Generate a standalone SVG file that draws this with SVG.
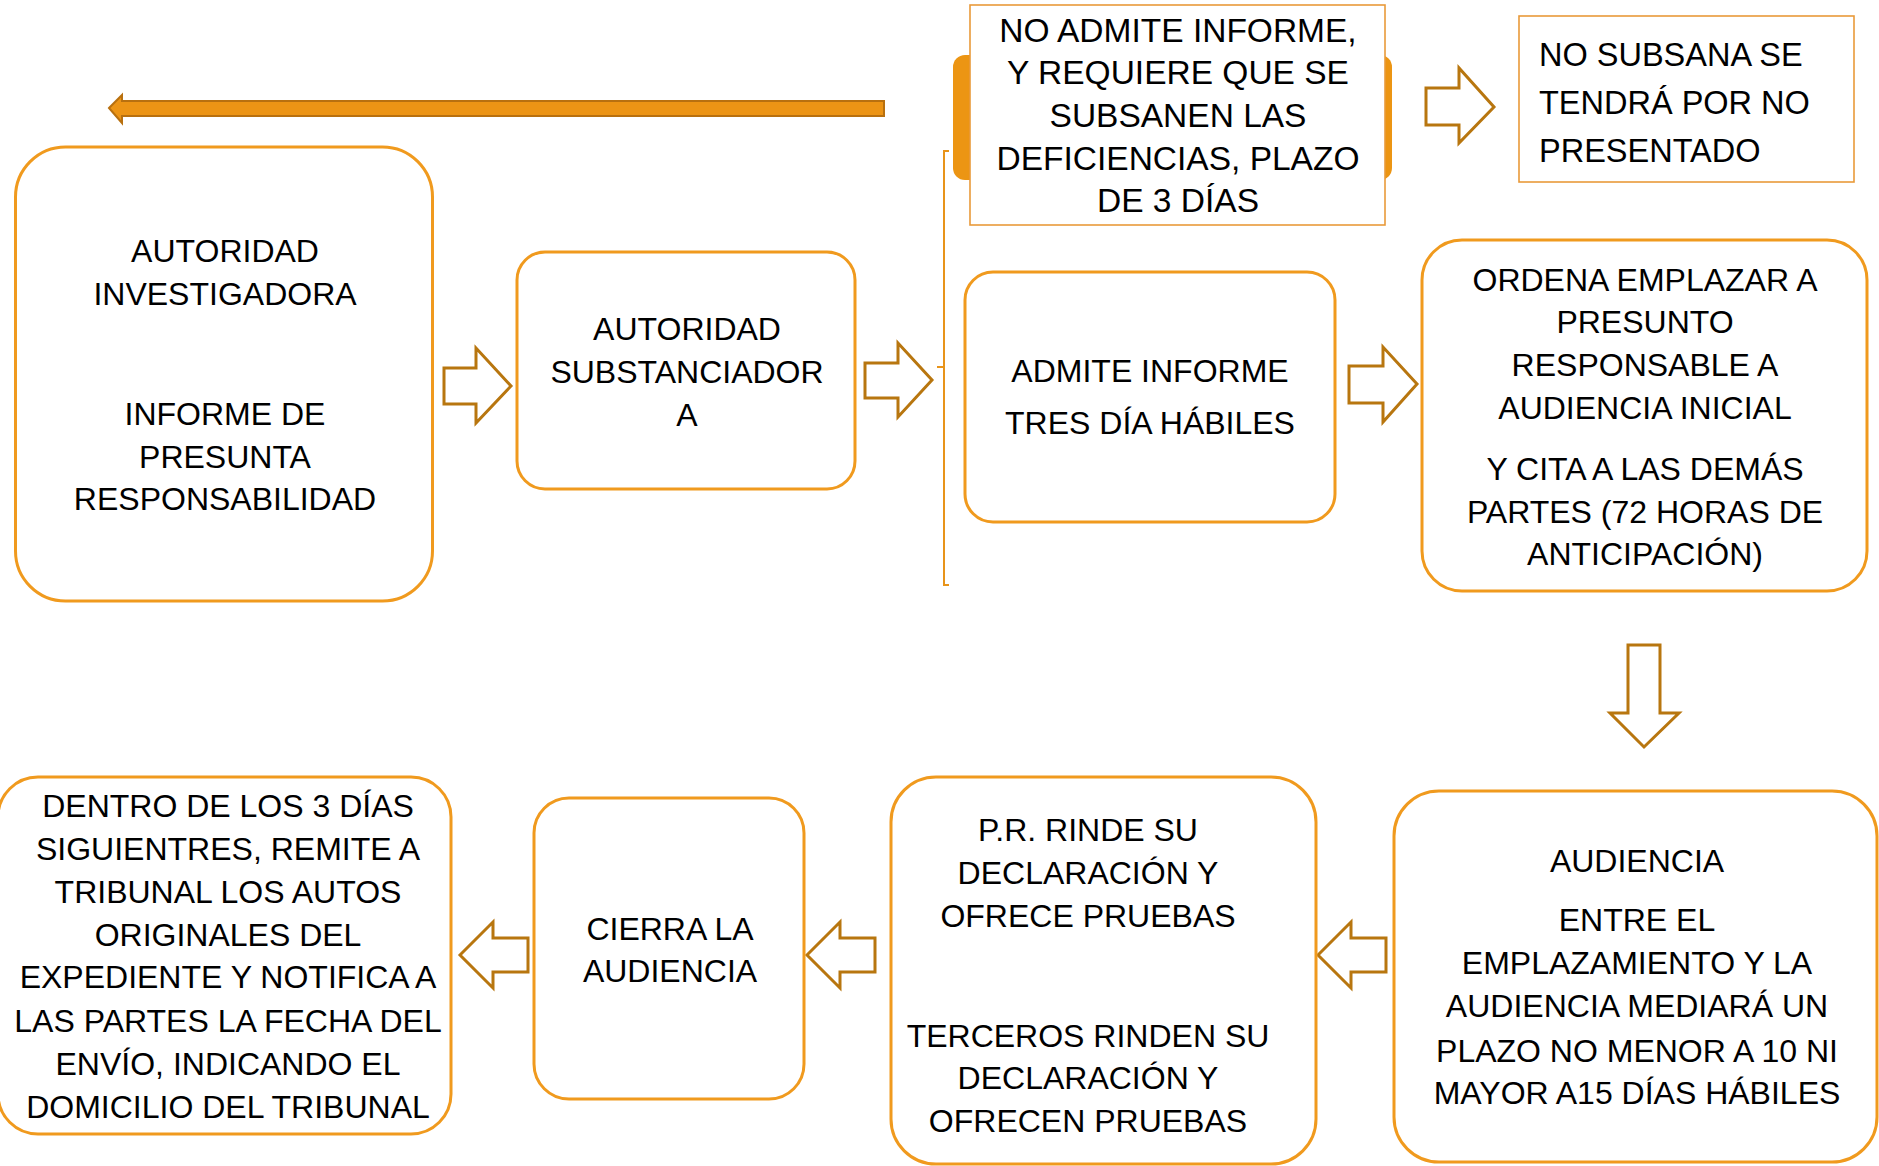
<svg xmlns="http://www.w3.org/2000/svg" width="1879" height="1166" viewBox="0 0 1879 1166">
<style>
.box{fill:#fff;stroke:#F09A1E;stroke-width:3}
.sq{fill:#fff;stroke:#E99A3A;stroke-width:1.6}
.ba{fill:#fff;stroke:#B8760F;stroke-width:3;stroke-linejoin:miter}
.t{font-family:"Liberation Sans",Arial,sans-serif;font-size:32px;fill:#000;text-anchor:middle}
.tl{font-family:"Liberation Sans",Arial,sans-serif;font-size:32.5px;fill:#000;text-anchor:start}
.big{font-size:33.5px}
</style>
<rect width="1879" height="1166" fill="#fff"/>
<g id="connectors">
  <path d="M109,108 L122,95 V101 H884 V116 H122 V123 Z" fill="#EC9415" stroke="#B8700F" stroke-width="2"/>
  <path d="M949,151 H944 V585 H949 M937,367 H944" fill="none" stroke="#E8941A" stroke-width="2"/>
  <path class="ba" d="M444,368 H476 V348 L511,386 L476,423 V404 H444 Z"/>
  <path class="ba" d="M865,363 H898 V343 L932,380 L898,417 V398 H865 Z"/>
  <path class="ba" d="M1349,366 H1383 V347 L1417,384 L1383,422 V403 H1349 Z"/>
  <path class="ba" d="M1426,88 H1459 V68 L1494,107 L1459,143 V125 H1426 Z"/>
  <path class="ba" d="M1628,645 H1660 V713 H1679 L1644,747 L1610,713 H1628 Z"/>
  <path class="ba" d="M1318,955 L1351,922 V938 H1386 V972 H1351 V988 Z"/>
  <path class="ba" d="M807,955 L840,922 V938 H875 V972 H840 V988 Z"/>
  <path class="ba" d="M460,955 L493,922 V938 H528 V972 H493 V988 Z"/>
</g>
<g id="n-investigadora">
  <rect class="box" x="15.5" y="147" width="417" height="454" rx="50"/>
  <text class="t" x="225" y="262">AUTORIDAD</text>
  <text class="t" x="225" y="305">INVESTIGADORA</text>
  <text class="t" x="225" y="425">INFORME DE</text>
  <text class="t" x="225" y="468">PRESUNTA</text>
  <text class="t" x="225" y="510">RESPONSABILIDAD</text>
</g>
<g id="n-substanciadora">
  <rect class="box" x="517" y="252" width="338" height="237" rx="28"/>
  <text class="t" x="687" y="340">AUTORIDAD</text>
  <text class="t" x="687" y="383">SUBSTANCIADOR</text>
  <text class="t" x="687" y="426">A</text>
</g>
<g id="n-no-admite">
  <rect x="953" y="55" width="439" height="125" rx="12" fill="#EC9513"/>
  <rect class="sq" x="970" y="5" width="415" height="220"/>
  <text class="t big" x="1178" y="42">NO ADMITE INFORME,</text>
  <text class="t big" x="1178" y="84">Y REQUIERE QUE SE</text>
  <text class="t big" x="1178" y="127">SUBSANEN LAS</text>
  <text class="t big" x="1178" y="170">DEFICIENCIAS, PLAZO</text>
  <text class="t big" x="1178" y="212">DE 3 DÍAS</text>
</g>
<g id="n-no-subsana">
  <rect class="sq" x="1519" y="16" width="335" height="166"/>
  <text class="tl" x="1539" y="66">NO SUBSANA SE</text>
  <text class="tl" x="1539" y="114">TENDRÁ POR NO</text>
  <text class="tl" x="1539" y="162">PRESENTADO</text>
</g>
<g id="n-admite">
  <rect class="box" x="965" y="272" width="370" height="250" rx="28"/>
  <text class="t" x="1150" y="382">ADMITE INFORME</text>
  <text class="t" x="1150" y="434">TRES DÍA HÁBILES</text>
</g>
<g id="n-ordena">
  <rect class="box" x="1422" y="240" width="445" height="351" rx="40"/>
  <text class="t" x="1645" y="291">ORDENA EMPLAZAR A</text>
  <text class="t" x="1645" y="333">PRESUNTO</text>
  <text class="t" x="1645" y="376">RESPONSABLE A</text>
  <text class="t" x="1645" y="419">AUDIENCIA INICIAL</text>
  <text class="t" x="1645" y="480">Y CITA A LAS DEMÁS</text>
  <text class="t" x="1645" y="523">PARTES (72 HORAS DE</text>
  <text class="t" x="1645" y="565">ANTICIPACIÓN)</text>
</g>
<g id="n-audiencia">
  <rect class="box" x="1394" y="791" width="483" height="371" rx="45"/>
  <text class="t" x="1637" y="872">AUDIENCIA</text>
  <text class="t" x="1637" y="931">ENTRE EL</text>
  <text class="t" x="1637" y="974">EMPLAZAMIENTO Y LA</text>
  <text class="t" x="1637" y="1017">AUDIENCIA MEDIARÁ UN</text>
  <text class="t" x="1637" y="1062">PLAZO NO MENOR A 10 NI</text>
  <text class="t" x="1637" y="1104">MAYOR A15 DÍAS HÁBILES</text>
</g>
<g id="n-pr">
  <rect class="box" x="891" y="777" width="425" height="387" rx="45"/>
  <text class="t" x="1088" y="841">P.R. RINDE SU</text>
  <text class="t" x="1088" y="884">DECLARACIÓN Y</text>
  <text class="t" x="1088" y="927">OFRECE PRUEBAS</text>
  <text class="t" x="1088" y="1047">TERCEROS RINDEN SU</text>
  <text class="t" x="1088" y="1089">DECLARACIÓN Y</text>
  <text class="t" x="1088" y="1132">OFRECEN PRUEBAS</text>
</g>
<g id="n-cierra">
  <rect class="box" x="534" y="798" width="270" height="301" rx="35"/>
  <text class="t" x="670" y="940">CIERRA LA</text>
  <text class="t" x="670" y="982">AUDIENCIA</text>
</g>
<g id="n-dentro">
  <rect class="box" x="-2" y="777" width="453" height="357" rx="40"/>
  <text class="t" x="228" y="817">DENTRO DE LOS 3 DÍAS</text>
  <text class="t" x="228" y="860">SIGUIENTRES, REMITE A</text>
  <text class="t" x="228" y="903">TRIBUNAL LOS AUTOS</text>
  <text class="t" x="228" y="946">ORIGINALES DEL</text>
  <text class="t" x="228" y="988">EXPEDIENTE Y NOTIFICA A</text>
  <text class="t" x="228" y="1032">LAS PARTES LA FECHA DEL</text>
  <text class="t" x="228" y="1075">ENVÍO, INDICANDO EL</text>
  <text class="t" x="228" y="1118">DOMICILIO DEL TRIBUNAL</text>
</g>
</svg>
